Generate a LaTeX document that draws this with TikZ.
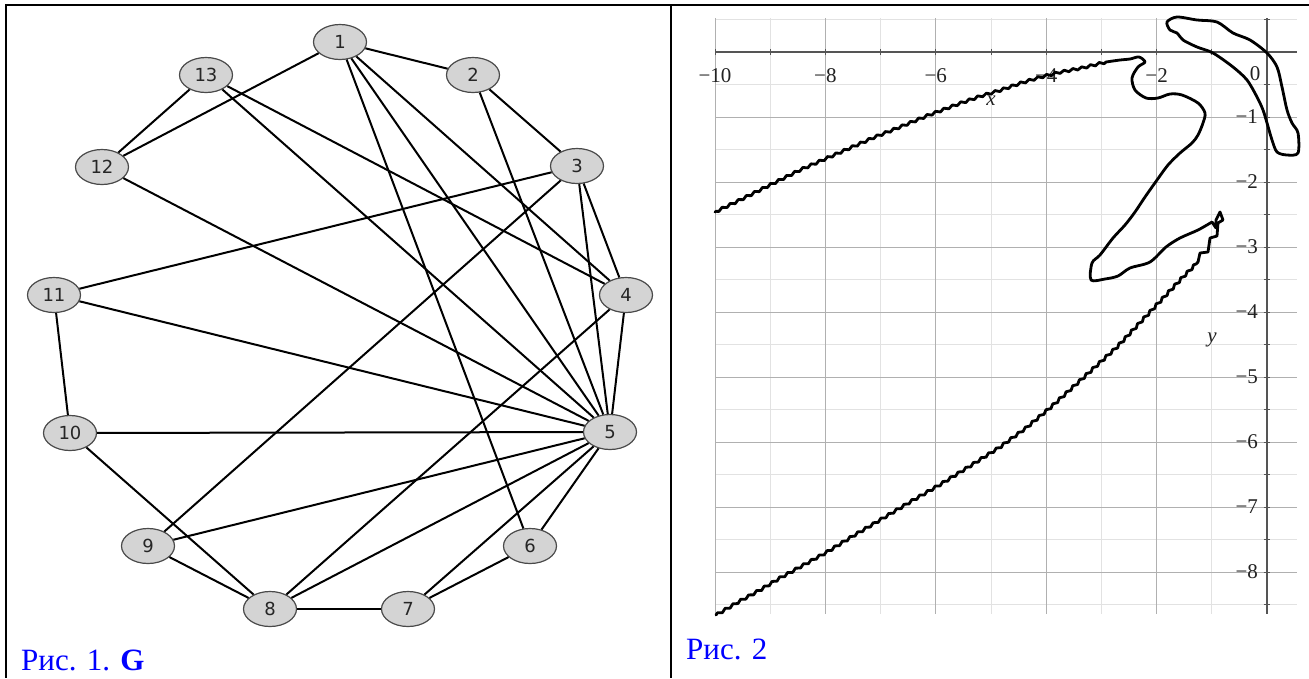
\documentclass[tikz,border=0pt]{standalone}
\usepackage{fontspec}
\setmainfont{Liberation Serif}
\newfontfamily\nodefont{DejaVu Sans}
\usetikzlibrary{shapes.geometric,decorations.pathmorphing}
\definecolor{nodefill}{HTML}{D4D4D4}
\definecolor{nodeline}{HTML}{4A4A4A}
\definecolor{capblue}{HTML}{0000FF}
\definecolor{gridmaj}{HTML}{B0B0B0}
\definecolor{gridmin}{HTML}{E2E2E2}
\definecolor{axisgray}{HTML}{555555}
\definecolor{labtext}{HTML}{222222}
\begin{document}
\begin{tikzpicture}[x=1pt,y=-1pt,
  vertex/.style={ellipse, draw=nodeline, fill=nodefill, line width=1.2pt,
    minimum width=53pt, minimum height=35pt, inner sep=0pt,
    font=\nodefont\fontsize{18}{18}\selectfont, text=black!85},
  edge/.style={line width=2pt, black},
  frameline/.style={line width=1.2pt, black},
  caption/.style={anchor=base west, text=capblue, inner sep=0pt,
    font=\fontsize{31}{31}\selectfont},
  ticklab/.style={text=labtext, inner sep=0pt, font=\fontsize{21}{21}\selectfont},
  curve/.style={line width=2.8pt, black, line join=round, line cap=round},
  wavy/.style={decorate, decoration={zigzag, segment length=9pt, amplitude=1.2pt}}
]
\useasboundingbox (0,0) rectangle (1309,678);
\fill[white] (0,0) rectangle (1309,678);

% frame
\draw[frameline] (5,5) -- (1309,5);
\draw[line width=2pt] (6,5) -- (6,678);
\draw[line width=2pt] (671,5) -- (671,678);
\draw[line width=2.6pt] (5,5) -- (20,5);
\draw[line width=2.6pt] (661,5) -- (683,5);

% ---------- graph G ----------
\node[vertex] (n1)  at (340,42)  {1};
\node[vertex] (n2)  at (473,75)  {2};
\node[vertex] (n3)  at (577,166) {3};
\node[vertex] (n4)  at (626,295) {4};
\node[vertex] (n5)  at (610,432) {5};
\node[vertex] (n6)  at (530,546) {6};
\node[vertex] (n7)  at (408,609) {7};
\node[vertex] (n8)  at (270,609) {8};
\node[vertex] (n9)  at (148,546) {9};
\node[vertex] (n10) at (70,433)  {10};
\node[vertex] (n11) at (54,295)  {11};
\node[vertex] (n12) at (102,167) {12};
\node[vertex] (n13) at (206,75)  {13};

\foreach \a/\b in {n1/n2, n1/n12, n1/n6, n1/n5, n1/n4,
                   n2/n3, n2/n5,
                   n3/n11, n3/n9, n3/n4, n3/n5,
                   n4/n5, n4/n8,
                   n5/n12, n5/n11, n5/n10, n5/n9, n5/n8, n5/n7, n5/n6, n5/n13,
                   n6/n7, n7/n8, n8/n9, n8/n10, n10/n11, n12/n13, n13/n4}
  \draw[edge] (\a) -- (\b);

\node[caption] (cap1) at (21,670) {Рис. 1. \textbf{G}};

% ---------- plot ----------
\begin{scope}[shift={(1267,52)}, x=55.2pt, y=65pt]
  \foreach \xx in {-9,-7,-5,-3,-1}
    \draw[gridmin, line width=1pt] (\xx,0.52) -- (\xx,-8.65);
  \foreach \yy in {0.5,-0.5,-1.5,-2.5,-3.5,-4.5,-5.5,-6.5,-7.5,-8.5}
    \draw[gridmin, line width=1pt] (-10,\yy) -- (0.55,\yy);
  \foreach \xx in {-10,-8,-6,-4,-2}
    \draw[gridmaj, line width=1pt] (\xx,0.52) -- (\xx,-8.65);
  \foreach \yy in {-1,-2,-3,-4,-5,-6,-7,-8}
    \draw[gridmaj, line width=1pt] (-10,\yy) -- (0.55,\yy);
  % axes
  \draw[axisgray, line width=1.8pt] (-10,0) -- (0.55,0);
  \draw[axisgray, line width=1.8pt] (0,0.52) -- (0,-8.65);
  \foreach \xx in {-10,-9,...,0}
    \draw[axisgray, line width=1pt] (\xx,0.05) -- (\xx,-0.05);
  \foreach \yy in {0.5,-0.5,-1,-1.5,-2,-2.5,-3,-3.5,-4,-4.5,-5,-5.5,-6,-6.5,-7,-7.5,-8,-8.5}
    \draw[axisgray, line width=1pt] (-0.06,\yy) -- (0.06,\yy);
  % tick labels
  \foreach \xx in {-10,-8,-6,-4,-2}
    \node[ticklab] at (\xx,-0.36) {−\the\numexpr-\xx\relax};
  \foreach \yy in {1,...,8}
    \node[ticklab, anchor=east] at (-0.16,-\yy) {−\yy};
\end{scope}
\node[ticklab] (lab0) at (1255,74) {0};
\node[ticklab, font=\itshape\fontsize{21}{21}\selectfont] (labx) at (991,101) {x};
\node[ticklab, font=\itshape\fontsize{21}{21}\selectfont] (laby) at (1212,340) {y};

% curve
\draw[curve, wavy] plot[sharp plot] coordinates {
  (716,615) (740,601) (760,590) (780,578) (800,567) (827,552) (853,536)
  (880,520) (910,502) (941,484) (970,466) (1000,447) (1026,428)
  (1051,407) (1083,378) (1117,347) (1150,312) (1183,277) (1198,262)};
\draw[curve] plot[sharp plot] coordinates {
  (1198,262) (1200,253) (1208,252) (1210,238) (1217,236) (1218,223)
  (1223,220) (1220,212) (1216,220) (1216,228) (1212,222)};
\draw[curve] plot[smooth, tension=0.5] coordinates {
  (1212,222) (1198,230) (1180,238) (1166,247) (1150,262) (1130,268)
  (1118,276) (1105,279) (1091,280) (1092,263) (1100,255) (1113,238)
  (1125,225) (1135,212) (1145,197) (1157,180) (1168,165) (1180,153)
  (1192,143) (1198,135) (1203,123) (1205,113) (1198,103) (1182,95)
  (1170,94) (1158,98) (1146,98) (1135,90) (1132,78) (1138,67) (1145,62)
  (1139,57) (1130,59) (1120,60) (1106,62)};
\draw[curve, wavy] plot[sharp plot] coordinates {
  (1106,62) (1082,68) (1061,72) (1041,77) (1021,83) (1001,90) (981,96)
  (961,103) (945,109) (929,115) (900,127) (875,137)
  (850,148) (825,159) (800,170) (780,180) (760,190) (738,201) (715,212)};
\draw[curve] plot[smooth cycle, tension=0.5] coordinates {
  (1167,22) (1177,17) (1197,20) (1217,22) (1233,33) (1250,40) (1267,53)
  (1277,67) (1282,87) (1287,110) (1292,123) (1298,133) (1298,153)
  (1287,155) (1277,152) (1272,140) (1267,123) (1263,110) (1257,97)
  (1247,80) (1233,67) (1213,53) (1197,47) (1183,40) (1177,33) (1170,30)};

\node[caption] (cap2) at (686,659) {Рис. 2};
\end{tikzpicture}
\end{document}
